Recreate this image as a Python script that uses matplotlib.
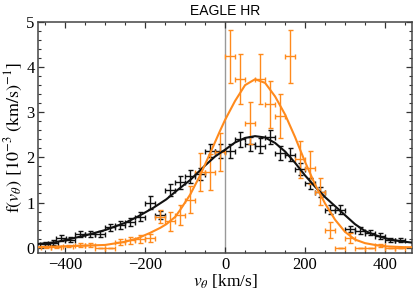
import numpy as np
import matplotlib
matplotlib.use("Agg")
import matplotlib.pyplot as plt
from matplotlib.ticker import MultipleLocator

plt.rcParams["font.family"] = "Liberation Serif"
plt.rcParams["mathtext.fontset"] = "stix"

BLACK, ORANGE = "#111111", "#ff8a1c"

# ---- binned points, all galaxies (black) ----
black_x = [-450, -430, -410, -387, -362, -337, -312, -287, -262, -237, -212, -187,
           -162, -137, -112, -87, -62, -37, -12, 12, 37, 62, 87, 112, 137, 162,
           187, 212, 237, 262, 287, 312, 337, 362, 387, 412, 437]
black_y = [0.08, 0.11, 0.21, 0.18, 0.30, 0.31, 0.31, 0.45, 0.50, 0.56, 0.68, 1.00,
           0.72, 1.28, 1.45, 1.58, 1.63, 2.15, 2.14, 2.14, 2.40, 2.30, 2.26, 2.45, 2.10, 2.06,
           1.74, 1.43, 1.24, 0.84, 0.84, 0.41, 0.38, 0.33, 0.26, 0.17, 0.17]
black_yerr = [0.04, 0.05, 0.06, 0.06, 0.07, 0.07, 0.07, 0.08, 0.08, 0.09, 0.10, 0.14,
              0.09, 0.14, 0.14, 0.14, 0.13, 0.15, 0.15, 0.15, 0.16, 0.16, 0.16, 0.16, 0.15, 0.15,
              0.14, 0.12, 0.11, 0.10, 0.10, 0.07, 0.07, 0.06, 0.06, 0.05, 0.05]

# ---- binned points, subsample (orange) ----
orange_x = [-447, -422, -392, -364, -339, -312, -287, -262, -237, -212, -187, -162,
            -137, -112, -87, -62, -37, -12, 12, 37, 62, 87, 112, 137, 162, 187,
            212, 237, 262, 287, 312, 337, 362, 387, 412, 437]
orange_y = [0.01, 0.01, 0.04, 0.06, 0.06, 0.0, 0.0, 0.13, 0.16, 0.19, 0.22, 0.69,
            0.58, 0.72, 1.06, 1.68, 1.68, 2.12, 4.24, 3.73, 2.76, 3.73, 3.18, 2.92, 4.24, 1.96,
            1.77, 1.24, 0.39, 0.0, 0.21, 0.0, 0.0, 0.05, 0.0, 0.0]
orange_yerr = [0.02, 0.02, 0.03, 0.04, 0.04, 0.0, 0.0, 0.06, 0.07, 0.08, 0.09, 0.15,
               0.22, 0.22, 0.30, 0.42, 0.40, 0.42, 0.59, 0.55, 0.46, 0.55, 0.52, 0.49, 0.59, 0.41,
               0.37, 0.30, 0.18, 0.0, 0.11, 0.0, 0.0, 0.04, 0.0, 0.0]
bin_half = 12.5

# ---- fitted curves ----
bfit_x = [-470, -425, -384, -350, -300, -250, -218, -180, -147, -120, -87, -50, -25, 0,
          25, 50, 75, 100, 125, 150, 175, 200, 225, 250, 275, 300, 325, 350, 375, 400,
          425, 450, 470]
bfit_y = [0.08, 0.12, 0.20, 0.27, 0.39, 0.55, 0.69, 0.88, 1.07, 1.27, 1.50, 1.82, 2.02, 2.17,
          2.33, 2.43, 2.47, 2.44, 2.32, 2.13, 1.88, 1.60, 1.35, 1.12, 0.92, 0.72, 0.52, 0.37,
          0.28, 0.21, 0.16, 0.13, 0.11]
ofit_x = [-470, -400, -300, -250, -218, -187, -162, -147, -125, -112, -87, -62, -37, -12, 0,
          25, 50, 75, 100, 125, 150, 175, 200, 225, 250, 275, 300, 325, 350, 375, 400,
          450, 470]
ofit_y = [0.01, 0.03, 0.06, 0.13, 0.21, 0.33, 0.44, 0.52, 0.68, 0.84, 1.18, 1.61, 2.10, 2.60, 2.83,
          3.25, 3.60, 3.73, 3.65, 3.35, 2.95, 2.45, 1.90, 1.40, 0.98, 0.62, 0.35, 0.18, 0.10,
          0.06, 0.03, 0.01, 0.01]

fig = plt.figure(figsize=(4.13, 2.96), dpi=100)
ax = fig.add_axes([0.092, 0.145, 0.906, 0.781])

ax.axvline(0, color="#999999", lw=1.0, zorder=1)
ax.errorbar(black_x, black_y, yerr=black_yerr, xerr=bin_half, fmt="none",
            ecolor=BLACK, elinewidth=1.0, capsize=1.8, capthick=1.0, zorder=3)
ax.errorbar(orange_x, orange_y, yerr=orange_yerr, xerr=bin_half, fmt="none",
            ecolor=ORANGE, elinewidth=1.0, capsize=1.8, capthick=1.0, zorder=3)
ax.plot(bfit_x, bfit_y, color=BLACK, lw=1.5, zorder=4)
ax.plot(ofit_x, ofit_y, color=ORANGE, lw=1.5, zorder=4)

ax.set_xlim(-468, 468)
ax.set_ylim(-0.12, 5)
ax.xaxis.set_major_locator(MultipleLocator(200))
ax.xaxis.set_minor_locator(MultipleLocator(50))
ax.yaxis.set_major_locator(MultipleLocator(1))
ax.yaxis.set_minor_locator(MultipleLocator(0.2))
ax.tick_params(which="both", direction="in", top=True, right=True, colors="#333333",
               labelcolor="black", labelsize=12, pad=2.5)
ax.tick_params(which="major", length=4, width=0.9)
ax.tick_params(which="minor", length=2.2, width=0.8)
for s in ax.spines.values():
    s.set_color("#444444")
    s.set_linewidth(1.1)
ax.xaxis.set_major_formatter(matplotlib.ticker.FuncFormatter(
    lambda v, p: f"{int(v)}".replace("-", "\u2212")))

ax.set_xlabel(r"$v_\theta$ [km/s]", fontsize=12.5, labelpad=0)
ax.set_ylabel(r"$\mathrm{f}(v_\theta)\ [10^{-3}\ (\mathrm{km/s})^{-1}]$", fontsize=13, labelpad=1)
ax.set_title("EAGLE HR", fontsize=10, family="Liberation Sans", pad=5)

fig.savefig("out.png", dpi=100)
